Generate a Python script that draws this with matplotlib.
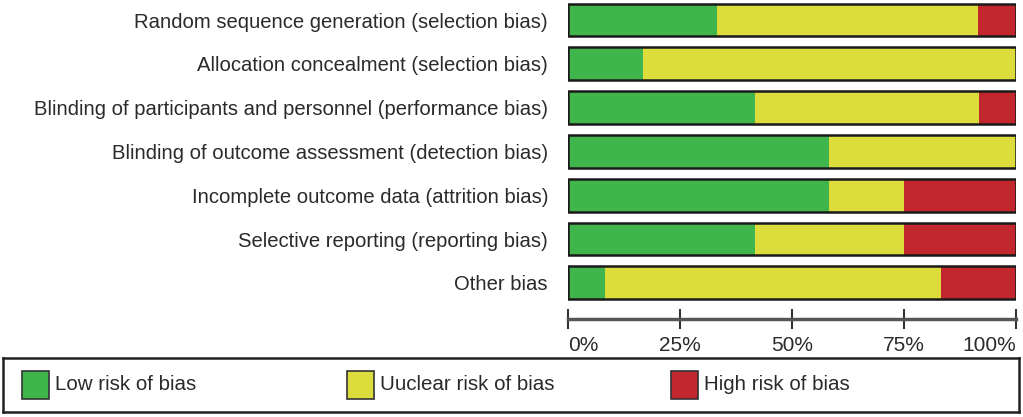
import matplotlib
matplotlib.use("Agg")
from matplotlib import pyplot as plt
from matplotlib.patches import Rectangle

plt.rcParams['font.family'] = ['Liberation Sans', 'DejaVu Sans']

# Risk of bias domains (top to bottom)
domains = [
    "Random sequence generation (selection bias)",
    "Allocation concealment (selection bias)",
    "Blinding of participants and personnel (performance bias)",
    "Blinding of outcome assessment (detection bias)",
    "Incomplete outcome data (attrition bias)",
    "Selective reporting (reporting bias)",
    "Other bias",
]

# Percent of studies per judgement
low_risk = [33.3, 16.7, 41.7, 58.3, 58.3, 41.7, 8.3]
unclear_risk = [58.3, 83.3, 50.0, 41.7, 16.7, 33.3, 75.0]
high_risk = [8.4, 0.0, 8.3, 0.0, 25.0, 25.0, 16.7]

tick_values = [0, 25, 50, 75, 100]
tick_labels = ["0%", "25%", "50%", "75%", "100%"]

legend_labels = ["Low risk of bias", "Uuclear risk of bias", "High risk of bias"]
colors = ["#3fb54b", "#dcdc3c", "#c1272d"]

W, H = 1023, 417
fig = plt.figure(figsize=(W / 100, H / 100), dpi=100)

# Main axes: x 568..1016 px, y 0..319 px
ax = fig.add_axes([568 / W, 1 - 319 / H, (1016 - 568) / W, 319 / H])

rows = list(range(len(domains)))
bar_h = 0.75
ax.barh(rows, low_risk, height=bar_h, color=colors[0], linewidth=0)
ax.barh(rows, unclear_risk, left=low_risk, height=bar_h, color=colors[1], linewidth=0)
left_high = [a + b for a, b in zip(low_risk, unclear_risk)]
ax.barh(rows, high_risk, left=left_high, height=bar_h, color=colors[2], linewidth=0)
# outline around each full bar
ax.barh(rows, [100] * len(rows), height=bar_h, fill=False,
        edgecolor="#1a1a1a", linewidth=1.8)

ax.set_xlim(0, 100)
ax.set_ylim(6.826, -0.457)

ax.set_yticks(rows)
ax.set_yticklabels(domains, fontsize=14.6, color="#2a2a2a")
ax.tick_params(axis="y", length=0, pad=14.4)

ax.set_xticks(tick_values)
ax.set_xticklabels(tick_labels, fontsize=15, color="#2a2a2a")
ax.tick_params(axis="x", direction="inout", length=14, width=1.5,
               color="#333333", pad=5)
xlabels = ax.get_xticklabels()
xlabels[0].set_horizontalalignment("left")
xlabels[-1].set_horizontalalignment("right")

for side in ["top", "left", "right"]:
    ax.spines[side].set_visible(False)
ax.spines["bottom"].set_color("#555555")
ax.spines["bottom"].set_linewidth(2.5)
ax.patch.set_visible(False)

# Legend box
lax = fig.add_axes([3 / W, 1 - 412 / H, (1019 - 3) / W, (412 - 358) / H])
lax.set_xlim(0, 1016)
lax.set_ylim(54, 0)
lax.set_xticks([])
lax.set_yticks([])
for s in lax.spines.values():
    s.set_linewidth(1.8)
    s.set_color("#222222")

patch_x = [19, 344, 668]
for x0, lab, c in zip(patch_x, legend_labels, colors):
    lax.add_patch(Rectangle((x0, 13), 27, 28, facecolor=c,
                            edgecolor="#333333", linewidth=1.2))
    lax.text(x0 + 33, 27, lab, fontsize=14.8, va="center", ha="left",
             color="#2a2a2a")

fig.savefig("out.png", dpi=100)
